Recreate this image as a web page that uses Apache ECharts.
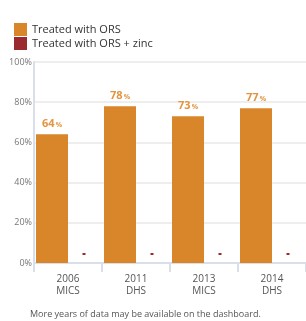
<!DOCTYPE html>
<html>
<head>
<meta charset="utf-8">
<script src="https://cdn.jsdelivr.net/npm/echarts@6/dist/echarts.min.js"></script>
<style>
  html, body { margin: 0; padding: 0; background: #fff; }
  #chart { width: 306px; height: 321px; }
</style>
</head>
<body>
<div id="chart"></div>
<script>
const surveys = ['2006\nMICS', '2011\nDHS', '2013\nMICS', '2014\nDHS'];
const orsValues = [64, 78, 73, 77];
// zinc not reported: drawn as a small marker above the baseline
const zincValues = [0, 0, 0, 0];
const yTicks = [0, 20, 40, 60, 80, 100];

const chart = echarts.init(document.getElementById('chart'));

chart.setOption({
  animation: false,
  textStyle: {fontFamily: 'Open Sans'},
  legend: {
    orient: 'vertical',
    left: 9,
    top: 18,
    itemWidth: 13,
    itemHeight: 13,
    itemGap: 1,
    icon: 'rect',
    textStyle: {fontSize: 11, color: '#333'},
    data: ['Treated with ORS', 'Treated with ORS + zinc']
  },
  grid: {
    left: 34,
    top: 62,
    width: 274,
    bottom: 58
  },
  xAxis: {
    type: 'category',
    data: surveys,
    axisLine: {lineStyle: {color: '#d9dfea', width: 2}},
    axisTick: {show: true, length: 9, lineStyle: {color: '#d9dfea', width: 2}},
    axisLabel: {color: '#555', fontSize: 10, lineHeight: 12, margin: 10}
  },
  yAxis: {
    type: 'value',
    min: yTicks[0],
    max: yTicks[yTicks.length - 1],
    interval: 20,
    axisLine: {show: true, lineStyle: {color: '#d9dfea', width: 2}},
    axisTick: {show: false},
    axisLabel: {color: '#777', fontSize: 9, margin: 2, formatter: '{value}%'},
    splitLine: {lineStyle: {color: '#e8e8e8', width: 1.5}}
  },
  series: [
    {
      name: 'Treated with ORS',
      type: 'bar',
      data: orsValues,
      barWidth: 32,
      barGap: '0%',
      itemStyle: {color: '#d9862a'},
      label: {
        show: true,
        position: 'top',
        distance: 5,
        formatter: p => '{v|' + p.value + '}{u|%}',
        rich: {
          v: {fontSize: 11, fontWeight: 'bold', color: '#e3943f'},
          u: {fontSize: 7, fontWeight: 'bold', color: '#e3943f', padding: [2, 0, 0, 1]}
        }
      }
    },
    {
      name: 'Treated with ORS + zinc',
      type: 'bar',
      data: zincValues,
      barWidth: 32,
      itemStyle: {color: '#9b2a2e'},
      label: {
        show: true,
        position: 'top',
        distance: 8,
        formatter: '{m| }',
        rich: {m: {width: 3, height: 2, backgroundColor: '#9b2a2e', fontSize: 2, lineHeight: 2}}
      }
    }
  ],
  graphic: [{
    type: 'text',
    left: 30,
    top: 310,
    style: {
      text: 'More years of data may be available on the dashboard.',
      fontSize: 9,
      fill: '#555',
      fontFamily: 'Open Sans'
    }
  }]
});
</script>
</body>
</html>
